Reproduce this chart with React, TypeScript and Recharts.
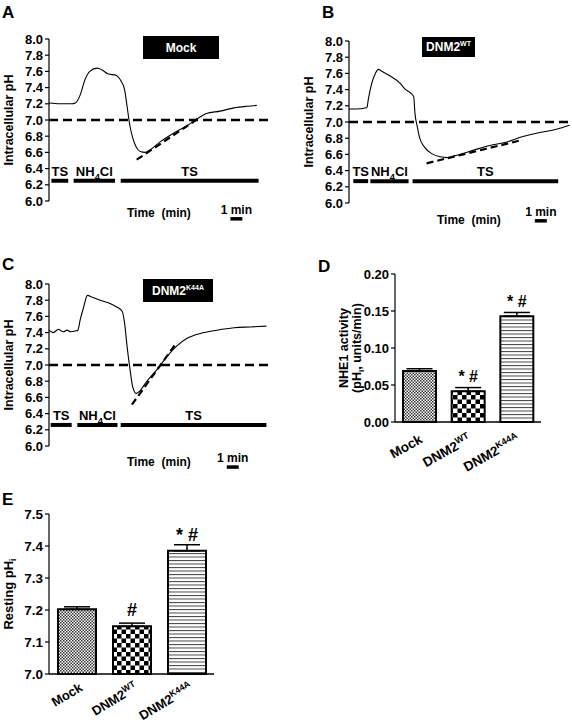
import React from "react";
import {
  LineChart,
  Line,
  XAxis,
  YAxis,
  ReferenceLine,
  BarChart,
  Bar,
  Cell,
  ErrorBar,
  LabelList,
} from "recharts";

const FONT = "'Liberation Sans', Arial, Helvetica, sans-serif";

// traces: time (min) and intracellular pH
const mockTime = [0, 0.9, 1.9, 2.2, 2.6, 3.0, 3.4, 4.0, 4.4, 4.9, 5.6, 6.0, 6.3, 6.5, 6.7, 6.97, 7.25, 7.6, 8.0, 8.4, 9.25, 10.4, 11.5, 12.3, 13.1, 14.25, 15.4, 16.5, 17.3];
const mockPh = [7.21, 7.2, 7.2, 7.21, 7.31, 7.5, 7.6, 7.64, 7.62, 7.57, 7.55, 7.48, 7.37, 7.17, 6.96, 6.78, 6.67, 6.61, 6.6, 6.63, 6.73, 6.84, 6.93, 7.01, 7.08, 7.11, 7.15, 7.17, 7.18];

const wtTime = [0, 0.6, 1.5, 1.6, 1.9, 2.2, 2.45, 2.7, 3.4, 4.25, 4.65, 5.2, 5.4, 5.5, 5.7, 5.9, 6.3, 6.9, 7.6, 8.15, 9.0, 10.35, 11.75, 13.1, 14.5, 15.9, 17.3, 18.4];
const wtPh = [7.16, 7.16, 7.18, 7.27, 7.48, 7.6, 7.65, 7.63, 7.57, 7.48, 7.41, 7.35, 7.31, 7.11, 6.94, 6.8, 6.69, 6.61, 6.57, 6.56, 6.59, 6.65, 6.71, 6.75, 6.82, 6.87, 6.91, 6.96];

const k44aTime = [0, 0.36, 0.78, 1.19, 1.5, 1.8, 2.2, 2.4, 2.6, 2.86, 3.2, 3.55, 4.25, 5.08, 5.6, 6.1, 6.3, 6.5, 6.75, 6.97, 7.25, 7.5, 8.1, 8.97, 9.8, 10.6, 11.5, 12.6, 13.97, 15.4, 16.75, 18.1];
const k44aPh = [7.43, 7.4, 7.44, 7.41, 7.43, 7.41, 7.42, 7.43, 7.56, 7.7, 7.86, 7.84, 7.8, 7.76, 7.72, 7.66, 7.51, 7.23, 6.94, 6.73, 6.65, 6.67, 6.79, 6.94, 7.1, 7.23, 7.33, 7.39, 7.43, 7.46, 7.47, 7.48];

// recovery slope fits [t0, pH0, t1, pH1]
const mockSlope = [7.3, 6.51, 12.45, 7.02];
const wtSlope = [6.47, 6.49, 14.5, 6.78];
const k44aSlope = [6.9, 6.51, 10.5, 7.25];

// perfusion protocol
const protocolNames = ["TS", "NH4Cl", "TS"];
const mockProtocol = [[0.2, 1.6], [2.05, 5.5], [5.97, 17.45]];
const wtProtocol = [[0.36, 1.6], [1.78, 4.97], [5.3, 17.45]];
const k44aProtocol = [[0.14, 1.89], [2.36, 5.7], [5.97, 18.1]];

const phTicks = [6.0, 6.2, 6.4, 6.6, 6.8, 7.0, 7.2, 7.4, 7.6, 7.8, 8.0];

// summary bars
const groups = ["Mock", "DNM2^WT", "DNM2^K44A"];
const nheActivity = [0.069, 0.0415, 0.143];
const nheSem = [0.003, 0.005, 0.005];
const nheSig = ["", "* #", "* #"];
const nheTicks = [0, 0.05, 0.1, 0.15, 0.2];

const restingPh = [7.202, 7.149, 7.385];
const restingSem = [0.008, 0.01, 0.019];
const restingSig = ["", "#", "* #"];
const restingTicks = [7.0, 7.1, 7.2, 7.3, 7.4, 7.5];

const bold = { fontFamily: FONT, fontWeight: "bold" as const, fill: "#000" };

const withSub = (s: string, size: number) => {
  const parts = s.split(/(\d)/).filter(Boolean);
  return parts.map((p, i) =>
    /\d/.test(p) ? (
      <tspan key={i} dy={4} fontSize={size * 0.72}>
        {p}
      </tspan>
    ) : (
      <tspan key={i} dy={i > 0 ? -4 : 0}>
        {p}
      </tspan>
    )
  );
};

const segLabel = (text: string, size: number, sub = false) => (props: any) => {
  const vb = props.viewBox || {};
  const x1 = vb.x1 ?? vb.x ?? 0;
  const x2 = vb.x2 ?? (vb.x ?? 0) + (vb.width ?? 0);
  const y = vb.y1 ?? vb.y ?? 0;
  return (
    <text x={(x1 + x2) / 2} y={y - 5} textAnchor="middle" fontSize={size} {...bold}>
      {sub ? withSub(text, size) : text}
    </text>
  );
};

const yTitle = (lines: React.ReactNode[], xs: number[], size: number) => (props: any) => {
  const vb = props.viewBox || {};
  const cy = (vb.y ?? 0) + (vb.height ?? 0) / 2;
  return (
    <g>
      {lines.map((l, i) => {
        const x = (vb.x ?? 0) + xs[i];
        return (
          <text key={i} x={x} y={cy} transform={`rotate(-90, ${x}, ${cy})`} textAnchor="middle" fontSize={size} {...bold}>
            {l}
          </text>
        );
      })}
    </g>
  );
};

type TraceProps = {
  left: number;
  top: number;
  width: number;
  height: number;
  margin: { top: number; right: number; bottom: number; left: number };
  xMax: number;
  time: number[];
  ph: number[];
  slope: number[];
  protocol: number[][];
  level: number;
  scaleAt: number;
  scaleY: number;
};

function TracePanel(p: TraceProps) {
  const data = p.time.map((t, i) => ({ t, ph: p.ph[i] }));
  return (
    <div style={{ position: "absolute", left: p.left, top: p.top }}>
      <LineChart width={p.width} height={p.height} data={data} margin={p.margin}>
        <XAxis type="number" dataKey="t" domain={[0, p.xMax]} hide />
        <YAxis
          type="number"
          domain={[6, 8]}
          ticks={phTicks}
          interval={0}
          tickFormatter={(v: number) => v.toFixed(1)}
          width={49}
          tickSize={4}
          tickMargin={2}
          stroke="#000"
          strokeWidth={1.2}
          tick={{ ...bold, fontSize: 13 }}
          label={yTitle(["Intracellular pH"], [13], 12.5)}
        />
        <ReferenceLine y={7} stroke="#000" strokeWidth={2.5} strokeDasharray="9 5" />
        <ReferenceLine
          segment={[
            { x: p.slope[0], y: p.slope[1] },
            { x: p.slope[2], y: p.slope[3] },
          ]}
          stroke="#000"
          strokeWidth={2.2}
          strokeDasharray="7 4"
          ifOverflow="visible"
        />
        {p.protocol.map(([a, b], i) => (
          <ReferenceLine
            key={i}
            segment={[
              { x: a, y: p.level },
              { x: b, y: p.level },
            ]}
            stroke="#000"
            strokeWidth={4}
            ifOverflow="visible"
            label={segLabel(protocolNames[i], 13, true)}
          />
        ))}
        <ReferenceLine
          segment={[
            { x: p.scaleAt, y: p.scaleY },
            { x: p.scaleAt + 1, y: p.scaleY },
          ]}
          stroke="#000"
          strokeWidth={3.5}
          ifOverflow="visible"
          label={segLabel("1 min", 12)}
        />
        <Line type="monotone" dataKey="ph" stroke="#000" strokeWidth={1.1} dot={false} isAnimationActive={false} />
      </LineChart>
    </div>
  );
}

const CatTick = (size: number, angle: number, dx: number, dy: number) => (props: any) => {
  const { x, y, payload } = props;
  const [base, sup] = String(payload.value).split("^");
  return (
    <g transform={`translate(${x + dx},${y + dy}) rotate(${angle})`}>
      <text x={0} y={0} textAnchor="end" fontSize={size} {...bold}>
        {base}
        {sup && (
          <tspan dy={-size * 0.4} fontSize={size * 0.68}>
            {sup}
          </tspan>
        )}
      </text>
    </g>
  );
};

const Patterns = ({ id }: { id: string }) => (
  <defs>
    <pattern id={`${id}-mock`} width="3" height="3" patternUnits="userSpaceOnUse">
      <rect width="3" height="3" fill="#fff" />
      <rect width="1.5" height="1.5" fill="#333" />
      <rect x="1.5" y="1.5" width="1.5" height="1.5" fill="#333" />
    </pattern>
    <pattern id={`${id}-wt`} width="9" height="9" patternUnits="userSpaceOnUse">
      <rect width="9" height="9" fill="#fff" />
      <rect width="4.5" height="4.5" fill="#000" />
      <rect x="4.5" y="4.5" width="4.5" height="4.5" fill="#000" />
    </pattern>
    <pattern id={`${id}-k44a`} width="6" height="3.5" patternUnits="userSpaceOnUse">
      <rect width="6" height="3.5" fill="#fff" />
      <rect width="6" height="1" fill="#444" />
    </pattern>
  </defs>
);

const sigLabel = (size: number, off: number) => (props: any) => {
  const { x, y, width, value } = props;
  if (!value) return null;
  return (
    <text x={x + width / 2} y={y - off} textAnchor="middle" fontSize={size} {...bold}>
      {value}
    </text>
  );
};

const fills = ["mock", "wt", "k44a"];

const nheData = groups.map((g, i) => ({ g, v: nheActivity[i], e: [0, nheSem[i]], s: nheSig[i] }));
const restData = groups.map((g, i) => ({ g, v: restingPh[i], e: [0, restingSem[i]], s: restingSig[i] }));

const TitleBox = ({ left, top, width, height, main, sup }: any) => (
  <div
    style={{
      position: "absolute",
      left,
      top,
      width,
      height,
      background: "#000",
      color: "#fff",
      fontFamily: FONT,
      fontWeight: "bold",
      fontSize: 12,
      display: "flex",
      alignItems: "center",
      justifyContent: "center",
    }}
  >
    <span>
      {main}
      {sup && <sup style={{ fontSize: 7 }}>{sup}</sup>}
    </span>
  </div>
);

const txt = (left: number, top: number, s: string, size = 12) => (
  <div style={{ position: "absolute", left, top, fontFamily: FONT, fontWeight: "bold", fontSize: size, whiteSpace: "pre", lineHeight: 1 }}>
    {s}
  </div>
);

export default function App() {
  return (
    <div style={{ position: "absolute", left: 0, top: 0, width: 572, height: 725, background: "#fff", overflow: "hidden" }}>
      {txt(2, 4, "A", 17)}
      {txt(322, 4, "B", 17)}
      {txt(2, 256, "C", 17)}
      {txt(318, 258, "D", 17)}
      {txt(2, 491, "E", 17)}

      <TracePanel
        left={0}
        top={0}
        width={290}
        height={240}
        margin={{ top: 39, right: 20, bottom: 39, left: 0 }}
        xMax={18.4}
        time={mockTime}
        ph={mockPh}
        slope={mockSlope}
        protocol={mockProtocol}
        level={6.25}
        scaleAt={15.1}
        scaleY={5.78}
      />
      <TitleBox left={143} top={36} width={76} height={23} main="Mock" />
      {txt(127, 207, "Time  (min)")}

      <TracePanel
        left={300}
        top={0}
        width={272}
        height={244}
        margin={{ top: 41, right: 0, bottom: 41, left: 0 }}
        xMax={18.6}
        time={wtTime}
        ph={wtPh}
        slope={wtSlope}
        protocol={wtProtocol}
        level={6.27}
        scaleAt={15.5}
        scaleY={5.78}
      />
      <TitleBox left={422} top={37} width={53} height={20} main="DNM2" sup="WT" />
      {txt(437, 214, "Time  (min)")}

      <TracePanel
        left={0}
        top={250}
        width={290}
        height={240}
        margin={{ top: 34, right: 20, bottom: 44, left: 0 }}
        xMax={18.4}
        time={k44aTime}
        ph={k44aPh}
        slope={k44aSlope}
        protocol={k44aProtocol}
        level={6.26}
        scaleAt={14.8}
        scaleY={5.74}
      />
      <TitleBox left={143} top={279} width={70} height={23} main="DNM2" sup="K44A" />
      {txt(127, 456, "Time  (min)")}

      <div style={{ position: "absolute", left: 300, top: 260 }}>
        <BarChart width={250} height={240} data={nheData} margin={{ top: 14, right: 9, bottom: 0, left: 0 }} barSize={33}>
          <Patterns id="d" />
          <XAxis dataKey="g" height={78} interval={0} tickLine={false} stroke="#000" strokeWidth={1.5} tick={CatTick(13.5, -29, 4, 12)} />
          <YAxis
            type="number"
            domain={[0, 0.2]}
            ticks={nheTicks}
            interval={0}
            tickFormatter={(v: number) => v.toFixed(2)}
            width={95}
            tickSize={4}
            tickMargin={2}
            stroke="#000"
            strokeWidth={1.2}
            tick={{ ...bold, fontSize: 13 }}
            label={yTitle(
              [
                "NHE1 activity",
                <>
                  <tspan>(pH</tspan>
                  <tspan dy={3} fontSize={8}>i</tspan>
                  <tspan dy={-3}>, units/min)</tspan>
                </>,
              ],
              [48, 61],
              12.5
            )}
          />
          <Bar dataKey="v" stroke="#000" strokeWidth={2} isAnimationActive={false}>
            {nheData.map((_, i) => (
              <Cell key={i} fill={`url(#d-${fills[i]})`} />
            ))}
            <ErrorBar dataKey="e" width={13} stroke="#000" strokeWidth={1.5} direction="y" />
            <LabelList dataKey="s" content={sigLabel(16, 9)} />
          </Bar>
        </BarChart>
      </div>

      <div style={{ position: "absolute", left: 0, top: 490 }}>
        <BarChart width={230} height={235} data={restData} margin={{ top: 24, right: 16, bottom: 0, left: 0 }} barSize={38}>
          <Patterns id="e" />
          <XAxis dataKey="g" height={51} interval={0} tickLine={false} stroke="#000" strokeWidth={1.5} tick={CatTick(13, -31, 7, 8)} />
          <YAxis
            type="number"
            domain={[7.0, 7.5]}
            ticks={restingTicks}
            interval={0}
            tickFormatter={(v: number) => v.toFixed(1)}
            width={49}
            tickSize={4}
            tickMargin={2}
            stroke="#000"
            strokeWidth={1.2}
            tick={{ ...bold, fontSize: 13.5 }}
            label={yTitle(
              [
                <>
                  <tspan>Resting pH</tspan>
                  <tspan dy={3} fontSize={9}>i</tspan>
                </>,
              ],
              [13],
              13
            )}
          />
          <Bar dataKey="v" stroke="#000" strokeWidth={2} isAnimationActive={false}>
            {restData.map((_, i) => (
              <Cell key={i} fill={`url(#e-${fills[i]})`} />
            ))}
            <ErrorBar dataKey="e" width={13} stroke="#000" strokeWidth={1.5} direction="y" />
            <LabelList dataKey="s" content={sigLabel(18, 10)} />
          </Bar>
        </BarChart>
      </div>
    </div>
  );
}
